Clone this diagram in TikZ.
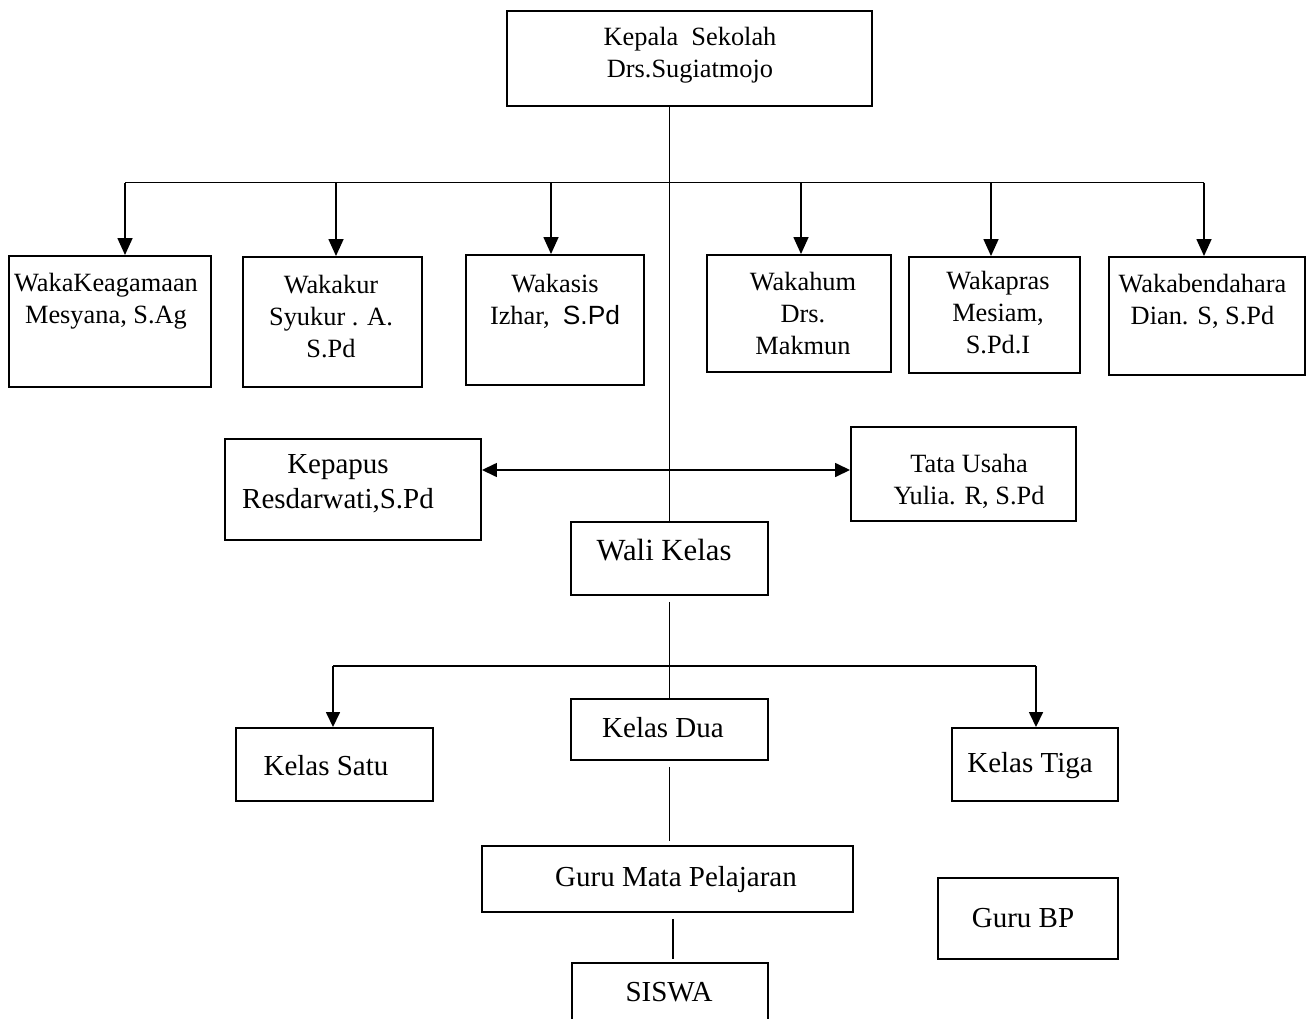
\documentclass[tikz,border=0pt]{standalone}
\usepackage{fontspec}
\setmainfont{Liberation Serif}
\newfontfamily\sansf{Liberation Sans}
\usetikzlibrary{positioning}
\usetikzlibrary{arrows.meta}
\tikzset{
    box/.style = {rectangle, line width=1.1pt, draw=black, inner sep=0pt},
    txt/.style = {align=center, inner sep=0pt, font=\fontsize{15}{18.2}\selectfont},
    txtb/.style = {align=center, inner sep=0pt, font=\fontsize{16.5}{19.8}\selectfont},
    txtw/.style = {align=center, inner sep=0pt, font=\fontsize{17.5}{21}\selectfont},
    edgen/.style = {-, line width=0.9pt, black},
    edgea/.style = {-{Triangle[length=3.4mm,width=3mm]}, line width=0.9pt, black},
    edgek/.style = {-{Triangle[length=3mm,width=2.8mm]}, line width=0.9pt, black},
    edged/.style = {{Triangle[length=3mm,width=2.8mm]}-{Triangle[length=3mm,width=2.8mm]}, line width=0.9pt, black}
}
\begin{document}
\begin{tikzpicture}
\useasboundingbox (0,0) rectangle (26.12,-20.38);
%
\node[box, minimum width=7.30cm, minimum height=1.90cm] at (13.79,-1.17) (kepala) {};
\node[txt] at (13.80,-1.10) (tkepala) {Kepala~~Sekolah\\Drs.Sugiatmojo};
%
\node[box, minimum width=4.04cm, minimum height=2.62cm] at (2.20,-6.43) (w1) {};
\node[box, minimum width=3.58cm, minimum height=2.60cm] at (6.65,-6.44) (w2) {};
\node[box, minimum width=3.56cm, minimum height=2.60cm] at (11.10,-6.40) (w3) {};
\node[box, minimum width=3.68cm, minimum height=2.34cm] at (15.98,-6.27) (w4) {};
\node[box, minimum width=3.42cm, minimum height=2.32cm] at (19.89,-6.30) (w5) {};
\node[box, minimum width=3.92cm, minimum height=2.36cm] at (24.14,-6.32) (w6) {};
\node[txt] at (2.12,-6.02) (t1) {WakaKeagamaan\\Mesyana, S.Ag};
\node[txt] at (6.62,-6.34) (t2) {Wakakur\\Syukur . A.\\S.Pd};
\node[txt] at (11.10,-6.02) (t3) {Wakasis\\Izhar,~~{\sansf S.Pd}};
\node[txt] at (16.06,-6.26) (t4) {Wakahum\\Drs.\\Makmun};
\node[txt] at (19.96,-6.26) (t5) {Wakapras\\Mesiam,\\S.Pd.I};
\node[txt] at (24.05,-6.02) (t6) {Wakabendahara\\Dian. S, S.Pd};
%
\node[box, minimum width=5.12cm, minimum height=2.02cm] at (7.06,-9.79) (kepapus) {};
\node[txtb] at (6.76,-9.68) (tkepapus) {Kepapus\\Resdarwati,S.Pd};
\node[box, minimum width=4.50cm, minimum height=1.88cm] at (19.27,-9.48) (tu) {};
\node[txt] at (19.38,-9.62) (ttu) {Tata Usaha\\Yulia. R, S.Pd};
\node[box, minimum width=3.94cm, minimum height=1.46cm] at (13.39,-11.17) (wali) {};
\node[txtw] at (13.28,-11.00) (twali) {Wali Kelas};
%
\node[box, minimum width=3.94cm, minimum height=1.46cm] at (6.69,-15.29) (satu) {};
\node[txtb] at (6.52,-15.32) (tsatu) {Kelas Satu};
\node[box, minimum width=3.94cm, minimum height=1.22cm] at (13.39,-14.59) (dua) {};
\node[txtb] at (13.26,-14.56) (tdua) {Kelas Dua};
\node[box, minimum width=3.32cm, minimum height=1.46cm] at (20.70,-15.29) (tiga) {};
\node[txtb] at (20.60,-15.32) (ttiga) {Kelas Tiga};
%
\node[box, minimum width=7.42cm, minimum height=1.32cm] at (13.35,-17.58) (guru) {};
\node[txtb] at (13.52,-17.60) (tguru) {Guru Mata Pelajaran};
\node[box, minimum width=3.60cm, minimum height=1.62cm] at (20.56,-18.37) (bp) {};
\node[txtb] at (20.46,-18.36) (tbp) {Guru BP};
\node[box, minimum width=3.92cm, minimum height=1.80cm] at (13.40,-20.16) (siswa) {};
\node[txtb] at (13.38,-19.84) (tsiswa) {SISWA};
%
\coordinate (a1) at (2.50,-3.65);
\coordinate (a2) at (6.72,-3.65);
\coordinate (a3) at (11.02,-3.65);
\coordinate (a4) at (16.02,-3.65);
\coordinate (a5) at (19.82,-3.65);
\coordinate (a6) at (24.08,-3.65);
\coordinate (mid) at (13.38,-9.40);
\coordinate (k1) at (6.66,-13.32);
\coordinate (k3) at (20.72,-13.32);
%
\draw[edgen] (kepala.south -| wali.north) -- (wali.north);
\draw[edgen] (a1) -- (a6);
\draw[edgea] (a1) -- (a1 |- w1.north);
\draw[edgea] (a2) -- (a2 |- w2.north);
\draw[edgea] (a3) -- (a3 |- w3.north);
\draw[edgea] (a4) -- (a4 |- w4.north);
\draw[edgea] (a5) -- (a5 |- w5.north);
\draw[edgea] (a6) -- (a6 |- w6.north);
\draw[edged] (kepapus.east |- mid) -- (tu.west |- mid);
%
\draw[edgen] ([yshift=-0.12cm]wali.south) -- (dua.north);
\draw[edgen] (k1) -- (k3);
\draw[edgek] (k1) -- (k1 |- satu.north);
\draw[edgek] (k3) -- (k3 |- tiga.north);
\draw[edgen] ([yshift=-0.12cm]dua.south) -- ([yshift=0.08cm]dua.south |- guru.north);
\draw[edgen] ([xshift=0.06cm,yshift=-0.12cm]siswa.north |- guru.south) -- ([xshift=0.06cm,yshift=0.06cm]siswa.north);

\end{tikzpicture}
\end{document}
